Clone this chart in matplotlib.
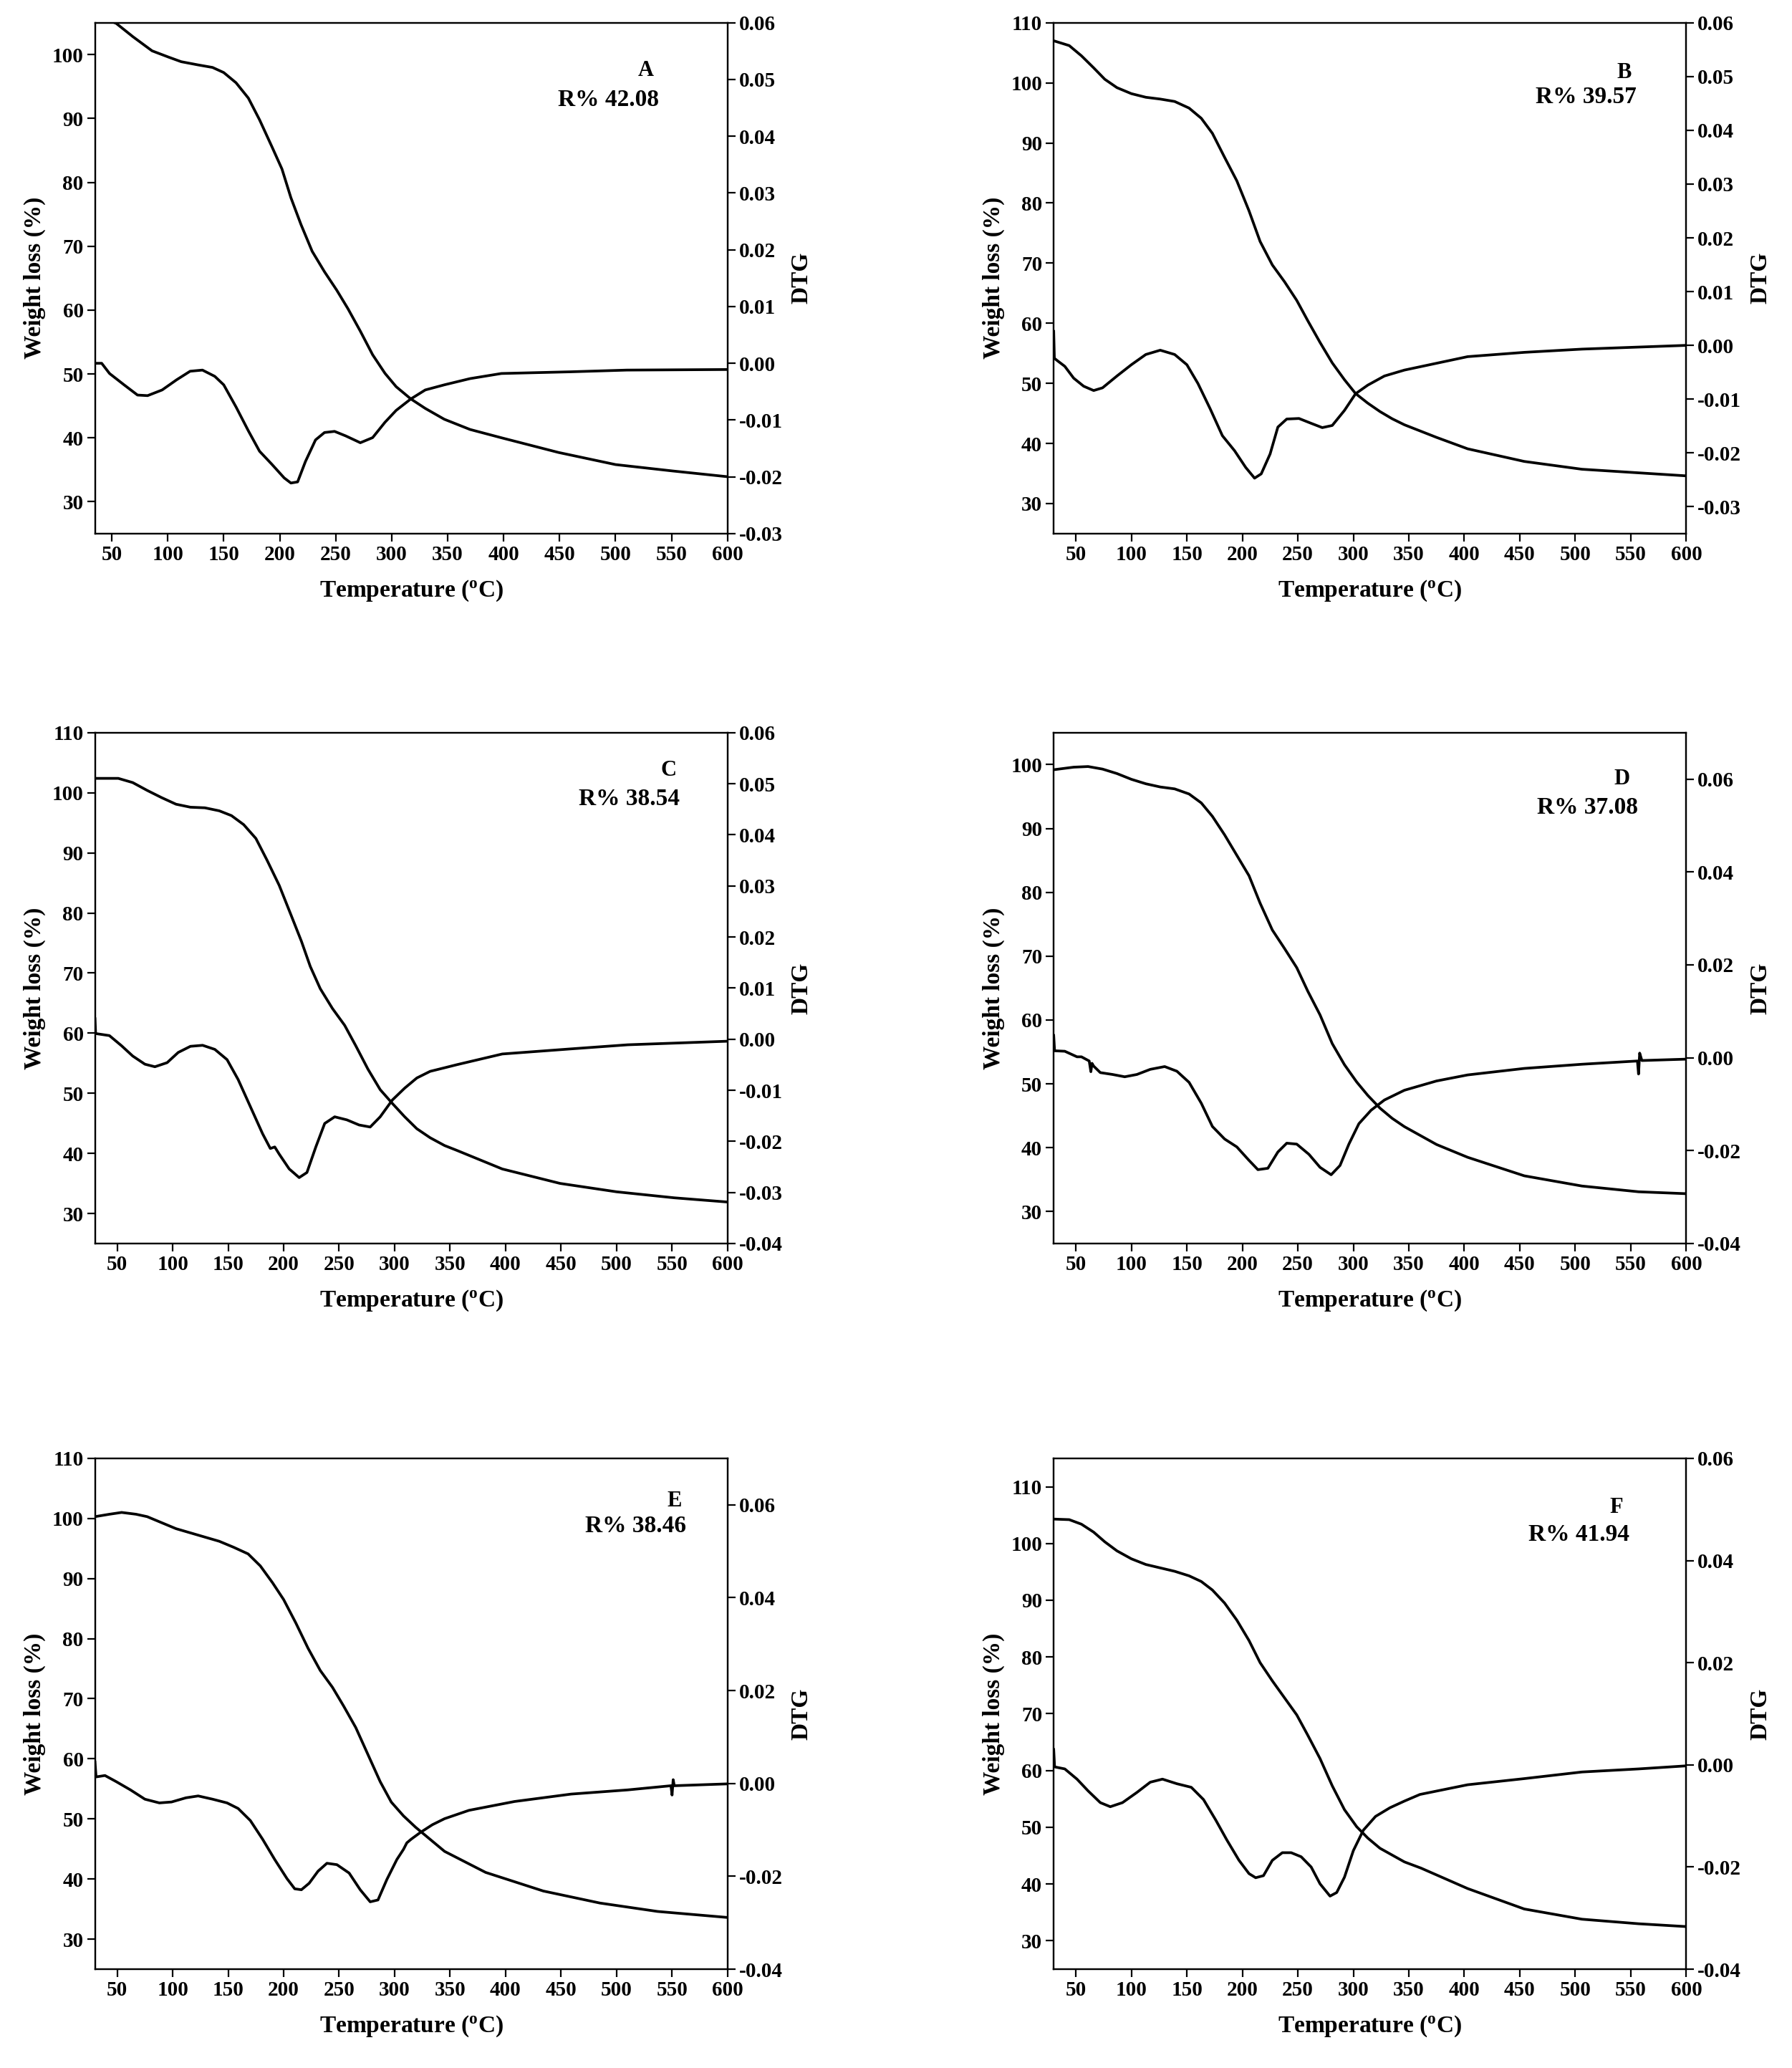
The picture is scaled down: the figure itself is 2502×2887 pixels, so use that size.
import numpy as np
import matplotlib
matplotlib.use('Agg')
import matplotlib.pyplot as plt
from matplotlib.ticker import FormatStrFormatter

plt.rcParams['font.family'] = ['Liberation Serif', 'DejaVu Serif']
plt.rcParams['font.weight'] = 'bold'
plt.rcParams['axes.unicode_minus'] = False
plt.rcParams['mathtext.fontset'] = 'custom'
plt.rcParams['mathtext.rm'] = 'Liberation Serif:bold'
plt.rcParams['mathtext.it'] = 'Liberation Serif:bold'
plt.rcParams['mathtext.bf'] = 'Liberation Serif:bold'

# ---- panel A ----
tg_temp_a = [35, 54, 69, 86, 101, 112, 127, 140, 150, 161, 172, 182, 193, 202, 210, 219, 229, 240, 251, 261, 272, 283,
             294, 304, 317, 330, 347, 370, 398, 449, 500, 551, 600]
tg_a = [106.3, 104.9, 102.8, 100.6, 99.6, 98.9, 98.4, 98.0, 97.2, 95.6, 93.2, 89.8, 85.6, 82.1, 77.6, 73.4, 69.2, 66.0,
        63.1, 60.2, 56.7, 53.0, 50.1, 48.0, 46.1, 44.6, 42.9, 41.3, 40.0, 37.7, 35.8, 34.8, 33.9]
dtg_temp_a = [35, 41, 48, 61, 73, 82, 95, 108, 120, 131, 142, 150, 161, 172, 182, 193, 204, 210, 216, 223, 232, 240, 249,
              259, 272, 283, 294, 304, 317, 330, 347, 370, 398, 460, 510, 600]
dtg_a = [0.0000, 0.0000, -0.0018, -0.0038, -0.0056, -0.0057, -0.0047, -0.0029, -0.0014, -0.0012, -0.0023, -0.0038,
         -0.0077, -0.0119, -0.0155, -0.0178, -0.0202, -0.0211, -0.0209, -0.0173, -0.0135, -0.0122, -0.0120, -0.0128,
         -0.0140, -0.0131, -0.0104, -0.0083, -0.0063, -0.0047, -0.0038, -0.0027, -0.0018, -0.0015, -0.0012, -0.0011]

# ---- panel B ----
tg_temp_b = [30, 44, 55, 66, 76, 87, 100, 113, 126, 139, 152, 163, 173, 184, 195, 206, 216, 227, 238, 249, 259, 270, 281,
             292, 302, 313, 324, 335, 346, 375, 403, 454, 506, 600]
tg_b = [107.0, 106.2, 104.5, 102.5, 100.6, 99.2, 98.2, 97.6, 97.3, 96.9, 95.8, 94.1, 91.6, 87.6, 83.7, 78.7, 73.6, 69.7,
        66.9, 63.8, 60.4, 56.8, 53.4, 50.6, 48.3, 46.7, 45.3, 44.1, 43.1, 41.0, 39.1, 37.0, 35.7, 34.6]
dtg_temp_b = [30, 30.6, 33, 40, 48, 57, 66, 74, 87, 100, 113, 126, 139, 150, 160, 171, 182, 193, 203, 211, 217, 225, 232,
              240, 251, 262, 272, 281, 292, 302, 313, 328, 346, 403, 454, 506, 600]
dtg_b = [0.0026, -0.0024, -0.0028, -0.0039, -0.0061, -0.0076, -0.0084, -0.0079, -0.0057, -0.0036, -0.0017, -0.0009,
         -0.0017, -0.0036, -0.0071, -0.0118, -0.0168, -0.0196, -0.0227, -0.0247, -0.0239, -0.0202, -0.0152, -0.0137,
         -0.0136, -0.0145, -0.0153, -0.0149, -0.0121, -0.0090, -0.0074, -0.0057, -0.0046, -0.0021, -0.0013, -0.0007, 0.0000]

# ---- panel C ----
tg_temp_c = [30, 51, 64, 77, 90, 103, 116, 129, 142, 153, 164, 175, 185, 196, 207, 216, 224, 233, 244, 255, 265, 276,
             287, 298, 309, 320, 332, 345, 356, 397, 449, 500, 552, 600]
tg_c = [102.4, 102.4, 101.7, 100.4, 99.2, 98.1, 97.6, 97.5, 97.0, 96.2, 94.7, 92.4, 88.8, 84.6, 79.5, 75.3, 71.1, 67.4,
        64.1, 61.3, 57.9, 54.0, 50.6, 48.3, 46.1, 44.1, 42.6, 41.3, 40.5, 37.4, 35.0, 33.6, 32.6, 31.9]
dtg_temp_c = [30, 30.6, 43, 54, 64, 75, 84, 95, 105, 116, 127, 138, 149, 159, 170, 181, 188, 192, 196, 205, 214, 221, 229,
              237, 246, 257, 268, 278, 287, 298, 309, 320, 332, 345, 356, 397, 459, 510, 600]
dtg_c = [0.0040, 0.0011, 0.0007, -0.0013, -0.0033, -0.0049, -0.0054, -0.0046, -0.0026, -0.0014, -0.0012, -0.0020,
         -0.0040, -0.0079, -0.0132, -0.0185, -0.0214, -0.0211, -0.0225, -0.0254, -0.0271, -0.0261, -0.0211, -0.0165,
         -0.0152, -0.0158, -0.0168, -0.0172, -0.0152, -0.0119, -0.0096, -0.0076, -0.0063, -0.0056, -0.0050, -0.0029,
         -0.0019, -0.0011, -0.0004]

# ---- panel D ----
tg_temp_d = [30, 48, 61, 74, 87, 100, 113, 126, 139, 152, 163, 173, 184, 195, 206, 216, 227, 238, 249, 259, 270, 281,
             292, 303, 313, 324, 335, 346, 375, 403, 454, 506, 557, 600]
tg_d = [99.2, 99.6, 99.7, 99.3, 98.6, 97.7, 97.0, 96.5, 96.2, 95.4, 94.0, 91.9, 89.0, 85.8, 82.6, 78.3, 74.1, 71.2, 68.2,
        64.5, 60.8, 56.3, 53.0, 50.3, 48.2, 46.2, 44.6, 43.3, 40.5, 38.5, 35.6, 34.0, 33.1, 32.8]
dtg_temp_d = [30, 30.8, 40, 51, 55, 62, 63.5, 64.5, 66, 72, 83, 94, 105, 117, 130, 141, 152, 163, 173, 184, 195, 206, 214,
              223, 232, 240, 249, 260, 270, 280, 288, 296, 305, 316, 328, 346, 375, 403, 454, 506, 556, 557, 558, 560, 600]
dtg_d = [0.0048, 0.0015, 0.0014, 0.0002, 0.0002, -0.0007, -0.0030, -0.0012, -0.0018, -0.0032, -0.0036, -0.0041,
         -0.0036, -0.0025, -0.0019, -0.0029, -0.0053, -0.0098, -0.0148, -0.0175, -0.0192, -0.0221, -0.0241, -0.0238,
         -0.0203, -0.0184, -0.0186, -0.0208, -0.0236, -0.0252, -0.0232, -0.0186, -0.0142, -0.0113, -0.0091, -0.0070,
         -0.0050, -0.0037, -0.0023, -0.0014, -0.0007, -0.0035, 0.0010, -0.0006, -0.0003]

# ---- panel E ----
tg_temp_e = [30, 43, 54, 67, 77, 90, 103, 116, 129, 142, 155, 168, 179, 190, 200, 211, 222, 233, 244, 254, 265, 276,
             287, 297, 308, 319, 332, 345, 382, 434, 485, 537, 600]
tg_e = [100.3, 100.7, 101.0, 100.7, 100.3, 99.3, 98.3, 97.6, 96.9, 96.2, 95.2, 94.1, 92.1, 89.3, 86.5, 82.6, 78.4, 74.7,
        71.9, 68.8, 65.2, 60.7, 56.2, 52.8, 50.5, 48.6, 46.6, 44.6, 41.1, 38.0, 36.0, 34.6, 33.6]
dtg_temp_e = [30, 31, 39, 49, 62, 75, 88, 99, 112, 123, 136, 149, 159, 170, 181, 192, 203, 210, 216, 223, 231, 239, 248,
              259, 269, 278, 285, 293, 302, 308, 311, 315, 323, 334, 345, 367, 408, 459, 510, 549, 550, 551, 552, 600]
dtg_e = [0.0046, 0.0014, 0.0017, 0.0004, -0.0014, -0.0034, -0.0042, -0.0040, -0.0031, -0.0027, -0.0034, -0.0042,
         -0.0054, -0.0080, -0.0120, -0.0164, -0.0205, -0.0227, -0.0229, -0.0215, -0.0189, -0.0172, -0.0175, -0.0193,
         -0.0229, -0.0255, -0.0251, -0.0207, -0.0164, -0.0142, -0.0128, -0.0120, -0.0106, -0.0089, -0.0076, -0.0058,
         -0.0039, -0.0023, -0.0014, -0.0005, -0.0025, 0.0008, -0.0005, -0.0001]

# ---- panel F ----
tg_temp_f = [30, 44, 55, 66, 76, 87, 100, 113, 126, 139, 152, 163, 173, 184, 195, 206, 216, 227, 238, 249, 259, 270, 281,
             292, 303, 313, 324, 335, 346, 361, 403, 454, 506, 557, 600]
tg_f = [104.3, 104.2, 103.4, 102.0, 100.3, 98.7, 97.3, 96.3, 95.7, 95.1, 94.3, 93.3, 91.8, 89.5, 86.5, 82.9, 79.0, 75.8,
        72.8, 69.8, 66.2, 62.1, 57.3, 53.1, 50.1, 48.1, 46.3, 45.1, 43.9, 42.8, 39.2, 35.6, 33.8, 33.0, 32.5]
dtg_temp_f = [30, 30.8, 40, 51, 61, 72, 81, 92, 105, 117, 128, 141, 154, 165, 176, 186, 197, 206, 212, 219, 227, 236, 244,
              253, 262, 270, 279, 285, 292, 300, 309, 320, 333, 346, 360, 403, 454, 506, 557, 600]
dtg_f = [0.0030, -0.0004, -0.0008, -0.0028, -0.0051, -0.0074, -0.0082, -0.0074, -0.0054, -0.0034, -0.0028, -0.0037,
         -0.0044, -0.0068, -0.0108, -0.0147, -0.0187, -0.0213, -0.0221, -0.0217, -0.0187, -0.0172, -0.0172, -0.0180,
         -0.0200, -0.0233, -0.0257, -0.0250, -0.0220, -0.0168, -0.0128, -0.0101, -0.0084, -0.0071, -0.0058, -0.0039,
         -0.0027, -0.0014, -0.0008, -0.0002]

panel_letters = ['A', 'B', 'C', 'D', 'E', 'F']
residues = ['R% 42.08', 'R% 39.57', 'R% 38.54', 'R% 37.08', 'R% 38.46', 'R% 41.94']

tg_data = [(tg_temp_a, tg_a), (tg_temp_b, tg_b), (tg_temp_c, tg_c), (tg_temp_d, tg_d), (tg_temp_e, tg_e), (tg_temp_f, tg_f)]
dtg_data = [(dtg_temp_a, dtg_a), (dtg_temp_b, dtg_b), (dtg_temp_c, dtg_c), (dtg_temp_d, dtg_d), (dtg_temp_e, dtg_e), (dtg_temp_f, dtg_f)]

# axis settings per panel
x_min = [35, 30, 30, 30, 30, 30]
left_lims = [(25, 105), (25, 110), (25, 110), (25, 105), (25, 110), (25, 115)]
left_ticks = [range(30, 101, 10), range(30, 111, 10), range(30, 111, 10), range(30, 101, 10), range(30, 111, 10), range(30, 111, 10)]
right_lims = [(-0.03, 0.06), (-0.035, 0.06), (-0.04, 0.06), (-0.04, 0.07), (-0.04, 0.07), (-0.04, 0.06)]
right_ticks = [np.arange(-0.03, 0.0601, 0.01), np.arange(-0.03, 0.0601, 0.01), np.arange(-0.04, 0.0601, 0.01),
               np.arange(-0.04, 0.0601, 0.02), np.arange(-0.04, 0.0601, 0.02), np.arange(-0.04, 0.0601, 0.02)]

letter_pos = [(0.871, 0.907), (0.902, 0.902), (0.907, 0.926), (0.898, 0.910), (0.916, 0.916), (0.890, 0.904)]
res_pos = [(0.812, 0.849), (0.841, 0.854), (0.844, 0.870), (0.844, 0.853), (0.855, 0.867), (0.830, 0.851)]

col_left = [0.053, 0.588]
row_bottom = [0.742, 0.3987, 0.0478]
ax_w = 0.353
ax_h = 0.247

fig = plt.figure(figsize=(25.02, 28.87), dpi=100)

for i in range(6):
    r = i // 2
    c = i % 2
    ax = fig.add_axes([col_left[c], row_bottom[r], ax_w, ax_h])
    ax2 = ax.twinx()

    t, w = tg_data[i]
    ax.plot(t, w, color='black', lw=2.7, solid_joinstyle='round')
    td, d = dtg_data[i]
    ax2.plot(td, d, color='black', lw=2.7, solid_joinstyle='round')

    ax.set_xlim(x_min[i], 600)
    ax.set_ylim(*left_lims[i])
    ax.set_yticks(list(left_ticks[i]))
    ax.set_xticks(range(50, 601, 50))
    ax2.set_ylim(*right_lims[i])
    ax2.set_yticks(right_ticks[i])
    ax2.yaxis.set_major_formatter(FormatStrFormatter('%.2f'))

    for a in (ax, ax2):
        for s in a.spines.values():
            s.set_linewidth(1.6)
        a.tick_params(direction='out', length=8, width=1.6, labelsize=21)

    ax.set_xlabel(r'Temperature ($\mathrm{^{o}}$C)', fontsize=24, fontweight='bold', labelpad=14)
    ax.set_ylabel('Weight loss (%)', fontsize=24, fontweight='bold', labelpad=6)
    ax2.set_ylabel('DTG', fontsize=24, fontweight='bold', labelpad=8)

    ax.text(letter_pos[i][0], letter_pos[i][1], panel_letters[i], transform=ax.transAxes,
            ha='center', va='center', fontsize=22, fontweight='bold')
    ax.text(res_pos[i][0], res_pos[i][1], residues[i], transform=ax.transAxes,
            ha='center', va='center', fontsize=24, fontweight='bold')

fig.savefig('out.png', dpi=100)
